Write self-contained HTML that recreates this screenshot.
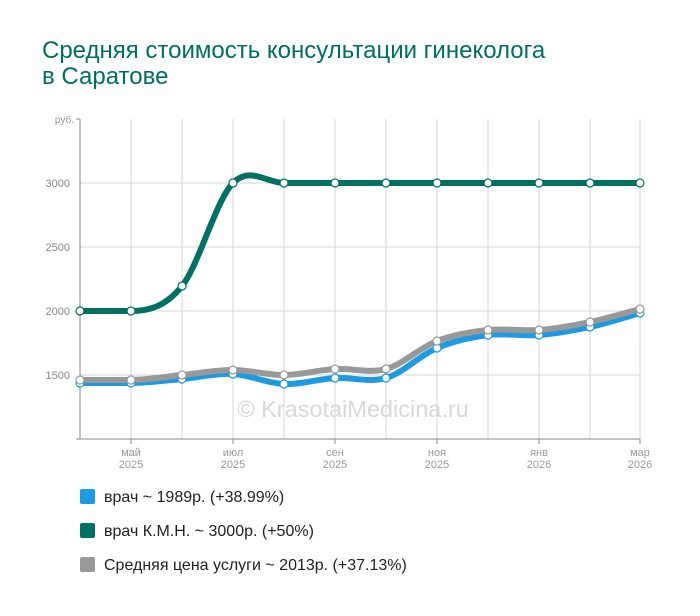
<!DOCTYPE html>
<html><head><meta charset="utf-8"><style>
body{margin:0;background:#fff;width:700px;height:616px;overflow:hidden;font-family:"Liberation Sans",Arial,sans-serif}
.t{position:absolute;left:42px;top:38px;font-size:24px;line-height:26px;color:#006f62}
.lg{position:absolute;left:80px;font-size:16px;color:#222}
.lg i{display:inline-block;width:15px;height:15px;border-radius:2px;vertical-align:-2px;margin-right:9px}
</style></head><body>
<div class="t">Средняя стоимость консультации гинеколога<br>в Саратове</div>
<svg id="s" width="700" height="616" style="position:absolute;left:0;top:0;z-index:-1" font-family="Liberation Sans,Arial,sans-serif"></svg>
<div class="lg" style="top:489px"><i style="background:#1e9be0"></i>врач ~ 1989р. (+38.99%)</div>
<div class="lg" style="top:523px"><i style="background:#007065"></i>врач К.М.Н. ~ 3000р. (+50%)</div>
<div class="lg" style="top:557px"><i style="background:#999"></i>Средняя цена услуги ~ 2013р. (+37.13%)</div>
<script>
var s=document.getElementById('s'),h='';
var xs=[80,131,182,233,284,335,386,437,488,539,590,640];
xs.forEach(function(x){h+='<line x1="'+x+'" y1="119" x2="'+x+'" y2="439" stroke="#d4d4d4"/>';});
[[183,'3000'],[247,'2500'],[311,'2000'],[375,'1500']].forEach(function(a){h+='<line x1="80" y1="'+a[0]+'" x2="640" y2="'+a[0]+'" stroke="#d4d4d4"/><text x="70" y="'+(a[0]+4)+'" font-size="11" fill="#888" text-anchor="end">'+a[1]+'</text>';});
h+='<text x="74" y="123" font-size="10" fill="#999" text-anchor="end">руб.</text>';
h+='<line x1="80" y1="119" x2="80" y2="439" stroke="#888"/><line x1="76" y1="439" x2="640" y2="439" stroke="#888"/><line x1="76" y1="119" x2="80" y2="119" stroke="#888"/>';
[[131,'май'],[233,'июл'],[335,'сен'],[437,'ноя'],[539,'янв'],[640,'мар']].forEach(function(a){var yr=a[0]>500?'2026':'2025';h+='<line x1="'+a[0]+'" y1="439" x2="'+a[0]+'" y2="444" stroke="#888"/><text x="'+a[0]+'" y="456" font-size="11" fill="#999" text-anchor="middle">'+a[1]+'</text><text x="'+a[0]+'" y="468" font-size="11" fill="#999" text-anchor="middle">'+yr+'</text>';});
h+='<text x="353" y="417" font-size="23.5" fill="#d8d8d8" text-anchor="middle">© KrasotaiMedicina.ru</text>';
function tan(ys,i){var a=Math.max(i-1,0),b=Math.min(i+1,11);if(i>0&&i<3&&ys[i-1]==ys[i])return 0;return (ys[b]-ys[a])/6;}
function path(ys){var p='M'+xs[0]+','+ys[0];for(var i=0;i<ys.length-1;i++){var x0=xs[Math.max(i-1,0)],x1=xs[i],x2=xs[i+1],x3=xs[Math.min(i+2,11)];p+=' C'+(x1+(x2-x0)/6)+','+(ys[i]+tan(ys,i))+' '+(x2-(x3-x1)/6)+','+(ys[i+1]-tan(ys,i+1))+' '+x2+','+ys[i+1];}return p;}
var S=[[[383,383,379,374,384,378,378,348,335,335,327,313],'#1e9be0'],[[380,380,375,370,375,369,369,341,330,330,322,309],'#999'],[[311,311,286,183,183,183,183,183,183,183,183,183],'#007065']];
S.forEach(function(d){h+='<path d="'+path(d[0])+'" fill="none" stroke="'+d[1]+'" stroke-width="6"/>';});
S.forEach(function(d){d[0].forEach(function(y,i){h+='<circle cx="'+xs[i]+'" cy="'+y+'" r="4" fill="#fff" stroke="'+d[1]+'" stroke-width="1.2"/>';});});
s.innerHTML=h;
</script>
</body></html>
